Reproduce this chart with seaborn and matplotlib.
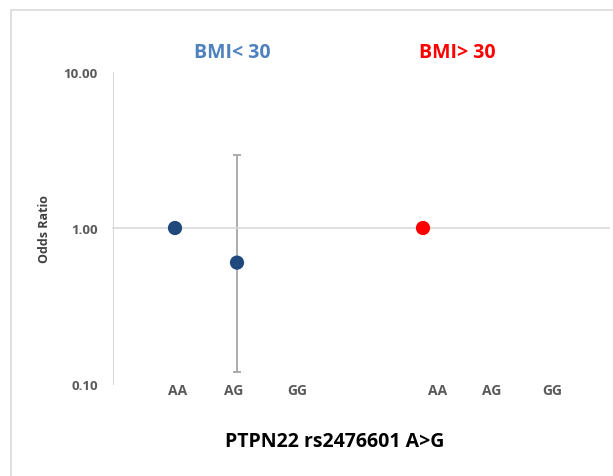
import numpy as np
import pandas as pd
import seaborn as sns
import matplotlib.pyplot as plt
from matplotlib.patches import Rectangle

# data
genotypes = ["AA", "AG", "GG"]
groups = ["BMI< 30", "BMI> 30"]
or_lt30 = [1.00, 0.60, np.nan]
lo_lt30 = [np.nan, 0.12, np.nan]
hi_lt30 = [np.nan, 2.94, np.nan]
or_gt30 = [1.00, np.nan, np.nan]
lo_gt30 = [np.nan, np.nan, np.nan]
hi_gt30 = [np.nan, np.nan, np.nan]
group_colors = ["#1f497d", "#ff0000"]
title_colors = ["#4f81bd", "#ff0000"]

# layout tweaks (label text boxes are not exactly on the categories)
label_shift = [0.05, -0.05, -0.03, 0.23, 0.11, 0.08]
heading_x = [0.92, 4.55]

rows = []
for g, (ors, los, his) in enumerate([(or_lt30, lo_lt30, hi_lt30),
                                     (or_gt30, lo_gt30, hi_gt30)]):
    for i, gt in enumerate(genotypes):
        rows.append({"group": groups[g], "genotype": gt, "pos": g * 4 + i,
                     "OR": ors[i], "lo": los[i], "hi": his[i]})
df = pd.DataFrame(rows)

sns.set_style("white")
plt.rcParams["font.family"] = ["Open Sans", "DejaVu Sans"]
plt.rcParams["font.weight"] = "bold"

fig = plt.figure(figsize=(6.13, 4.77), dpi=100)
ax = fig.add_axes([113 / 613, 1 - 385 / 477, 496 / 613, 312 / 477])

# outer chart border
fig.patches.append(Rectangle((11 / 613, -0.1), 1.2, 1 - 11 / 477 + 0.1,
                             transform=fig.transFigure, fill=False,
                             edgecolor="#d9d9d9", linewidth=1.2))

# error bars
ci = df.dropna(subset=["lo"])
ax.errorbar(ci["pos"], ci["OR"],
            yerr=[ci["OR"] - ci["lo"], ci["hi"] - ci["OR"]],
            fmt="none", ecolor="#a6a6a6", elinewidth=1.3, capsize=2.7,
            capthick=1.3, zorder=2)

sns.scatterplot(data=df.dropna(subset=["OR"]), x="pos", y="OR", hue="group",
                palette=group_colors, s=105, edgecolor="none", legend=False,
                ax=ax, zorder=3)

ax.set_yscale("log")
ax.set_ylim(0.1, 10)
ax.set_xlim(-1, 7)
ax.set_yticks([0.1, 1, 10])
ax.set_yticklabels(["0.10", "1.00", "10.00"], fontweight="bold")
ax.yaxis.set_minor_locator(plt.NullLocator())
ax.tick_params(axis="y", length=0, pad=11, labelsize=9.5, labelcolor="#595959")
ax.set_ylabel("Odds Ratio", fontsize=9, fontweight="bold", color="#404040",
              labelpad=9)
ax.set_xlabel("")

# category axis crossing at OR = 1
for s in ["top", "right"]:
    ax.spines[s].set_visible(False)
ax.spines["left"].set_color("#d9d9d9")
ax.spines["bottom"].set_position(("data", 1))
ax.spines["bottom"].set_color("#d9d9d9")
ax.spines["bottom"].set_linewidth(1.2)
ax.set_xticks(range(0, 8))
ax.tick_params(axis="x", direction="out", length=4, color="#d9d9d9",
               width=1.2, labelbottom=False)

# genotype labels at the bottom
sec = ax.secondary_xaxis("bottom")
sec.set_xticks([p + d for p, d in zip(df["pos"], label_shift)])
sec.set_xticklabels(df["genotype"].tolist(), fontsize=10, fontweight="bold",
                    color="#595959")
sec.tick_params(length=0, pad=-1)
sec.spines["bottom"].set_visible(False)
sec.set_xlabel("PTPN22 rs2476601 A>G", fontsize=14, fontweight="bold",
               color="black", labelpad=25, x=0.447)

# group headings
for g, name in enumerate(groups):
    ax.text(heading_x[g], 1.065, name, transform=ax.get_xaxis_transform(),
            ha="center", va="center", fontsize=14, fontweight="bold",
            color=title_colors[g])

fig.savefig("out.png", dpi=100)
